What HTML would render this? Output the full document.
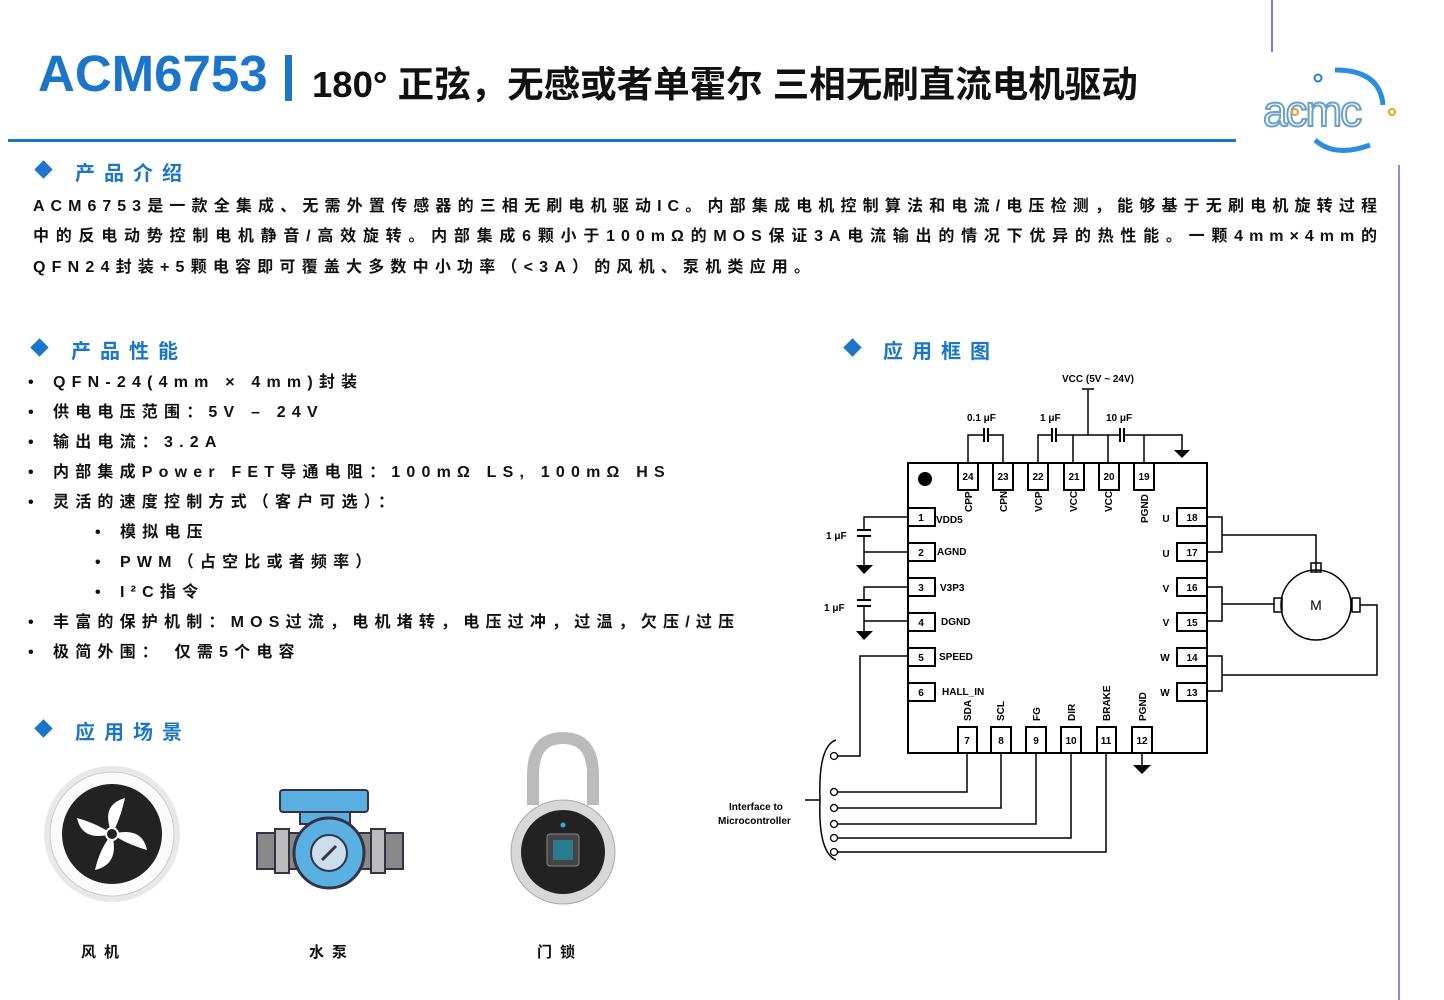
<!DOCTYPE html>
<html><head><meta charset="utf-8">
<style>
*{margin:0;padding:0;box-sizing:border-box}
body{width:1444px;height:1000px;background:#fff;position:relative;overflow:hidden;font-family:"Liberation Sans","Noto Sans CJK SC",sans-serif;color:#111}
.a{position:absolute;white-space:nowrap}
.h{color:#1b75c8;font-size:20px;font-weight:bold;letter-spacing:9px}
.dia{position:absolute;width:13px;height:13px;background:#1b75c8;transform:rotate(45deg)}
.p{position:absolute;left:33px;width:1350px;font-size:16px;font-weight:bold;letter-spacing:6px;white-space:nowrap;text-align:justify;text-align-last:justify;line-height:20px}
.li{position:absolute;font-size:16px;font-weight:bold;letter-spacing:6.2px;white-space:nowrap;line-height:20px}
.b{position:absolute;font-size:16px;font-weight:bold;line-height:20px}
.cap{position:absolute;font-size:15px;font-weight:bold;letter-spacing:8px}
</style></head><body>
<div class="a" style="left:38px;top:44px;font-size:51px;font-weight:bold;color:#1b75c8;">ACM6753</div>
<div class="a" style="left:285px;top:55px;width:7px;height:46px;background:#1b75c8"></div>
<div class="a" style="left:312px;top:55px;font-size:36.5px;font-weight:bold;">180° 正弦，无感或者单霍尔 三相无刷直流电机驱动</div>
<div class="a" style="left:8px;top:139px;width:1228px;height:3px;background:#1b75c8"></div>
<div class="a" style="left:1271px;top:0;width:2px;height:52px;background:#8a6fe0"></div>
<div class="a" style="left:1398px;top:165px;width:2px;height:835px;background:#9b86e6"></div>
<!-- logo -->
<svg class="a" style="left:1255px;top:60px" width="160" height="100">
<circle cx="63" cy="18" r="3.5" fill="none" stroke="#2a7fd0" stroke-width="2"/>
<path d="M80 10 Q125 10 128 45" stroke="#2a8ee0" stroke-width="5" fill="none"/>
<path d="M60 80 Q80 98 115 85" stroke="#2a8ee0" stroke-width="5" fill="none"/>
<text x="8" y="66" font-size="44" font-family="Liberation Sans" fill="none" stroke="#6aa0c8" stroke-width="2" letter-spacing="-2">acmc</text>
<circle cx="40" cy="52" r="3" fill="none" stroke="#f0a020" stroke-width="2"/>
<circle cx="137" cy="52" r="3" fill="none" stroke="#f0a020" stroke-width="2"/>
</svg>

<div class="dia" style="left:37px;top:163px"></div>
<div class="a h" style="left:75px;top:157px">产品介绍</div>
<div class="p" style="top:197px">ACM6753是一款全集成、无需外置传感器的三相无刷电机驱动IC。内部集成电机控制算法和电流/电压检测，能够基于无刷电机旋转过程</div>
<div class="p" style="top:227px">中的反电动势控制电机静音/高效旋转。内部集成6颗小于100mΩ的MOS保证3A电流输出的情况下优异的热性能。一颗4mm×4mm的</div>
<div class="li" style="left:33px;top:258px">QFN24封装+5颗电容即可覆盖大多数中小功率（&lt;3A）的风机、泵机类应用。</div>

<div class="dia" style="left:33px;top:341px"></div>
<div class="a h" style="left:71px;top:335px">产品性能</div>
<div class="b" style="left:28px;top:373px">•</div><div class="li" style="left:53px;top:373px">QFN-24(4mm × 4mm)封装</div>
<div class="b" style="left:28px;top:403px">•</div><div class="li" style="left:53px;top:403px">供电电压范围：5V – 24V</div>
<div class="b" style="left:28px;top:433px">•</div><div class="li" style="left:53px;top:433px">输出电流：3.2A</div>
<div class="b" style="left:28px;top:463px">•</div><div class="li" style="left:53px;top:463px">内部集成Power FET导通电阻：100mΩ LS, 100mΩ HS</div>
<div class="b" style="left:28px;top:493px">•</div><div class="li" style="left:53px;top:493px">灵活的速度控制方式（客户可选）：</div>
<div class="b" style="left:95px;top:523px">•</div><div class="li" style="left:120px;top:523px">模拟电压</div>
<div class="b" style="left:95px;top:553px">•</div><div class="li" style="left:120px;top:553px">PWM（占空比或者频率）</div>
<div class="b" style="left:95px;top:583px">•</div><div class="li" style="left:120px;top:583px">I²C指令</div>
<div class="b" style="left:28px;top:613px">•</div><div class="li" style="left:53px;top:613px">丰富的保护机制：MOS过流，电机堵转，电压过冲，过温，欠压/过压</div>
<div class="b" style="left:28px;top:643px">•</div><div class="li" style="left:53px;top:643px">极简外围： 仅需5个电容</div>

<div class="dia" style="left:846px;top:341px"></div>
<div class="a h" style="left:883px;top:335px">应用框图</div>

<div class="dia" style="left:37px;top:722px"></div>
<div class="a h" style="left:75px;top:716px">应用场景</div>

<!-- icons -->
<svg class="a" style="left:40px;top:760px" width="150" height="150">
<circle cx="72" cy="74" r="68" fill="#e8e8e8"/>
<circle cx="72" cy="74" r="62" fill="#fafafa" stroke="#ccc"/>
<circle cx="72" cy="74" r="50" fill="#222"/>
<g fill="#fff">
<path d="M72 74 Q60 45 85 38 Q80 60 72 74Z"/>
<path d="M72 74 Q102 66 107 90 Q86 84 72 74Z"/>
<path d="M72 74 Q80 104 55 110 Q60 88 72 74Z"/>
<path d="M72 74 Q42 82 37 58 Q58 64 72 74Z"/>
</g><circle cx="72" cy="74" r="6" fill="#222" stroke="#fff" stroke-width="2"/>
</svg>
<svg class="a" style="left:255px;top:785px" width="150" height="105">
<rect x="25" y="5" width="88" height="22" rx="3" fill="#5ab0e0" stroke="#334" stroke-width="2"/>
<rect x="45" y="27" width="50" height="12" fill="#5ab0e0" stroke="#334" stroke-width="2"/>
<rect x="2" y="48" width="146" height="36" fill="#888" stroke="#334" stroke-width="2"/>
<rect x="20" y="44" width="14" height="44" fill="#bbb" stroke="#334" stroke-width="2"/>
<rect x="116" y="44" width="14" height="44" fill="#bbb" stroke="#334" stroke-width="2"/>
<circle cx="74" cy="68" r="35" fill="#5ab0e0" stroke="#334" stroke-width="3"/>
<circle cx="74" cy="68" r="18" fill="#cde" stroke="#334" stroke-width="2"/>
<line x1="67" y1="75" x2="81" y2="61" stroke="#334" stroke-width="3"/>
</svg>
<svg class="a" style="left:505px;top:730px" width="115" height="180">
<path d="M28 75 V45 Q28 8 58 8 Q88 8 88 45 V75" fill="none" stroke="#bbb" stroke-width="12"/>
<circle cx="58" cy="122" r="52" fill="#d8d8d8" stroke="#aaa"/>
<circle cx="58" cy="122" r="42" fill="#222"/>
<rect x="42" y="104" width="32" height="32" rx="3" fill="#444" stroke="#888"/>
<rect x="48" y="110" width="20" height="20" fill="#2a7a90"/>
<circle cx="58" cy="95" r="2.5" fill="#3ad"/>
</svg>
<div class="cap" style="left:81px;top:941px">风机</div>
<div class="cap" style="left:309px;top:941px">水泵</div>
<div class="cap" style="left:537px;top:941px">门锁</div>

<!-- diagram -->
<svg class="a" style="left:0;top:0" width="1444" height="1000" font-family="Liberation Sans,sans-serif" font-weight="bold">
<g stroke="#000" stroke-width="1.5" fill="none">
<rect x="908" y="463" width="299" height="290" stroke-width="2"/>
<path d="M968 463V435H984M988 435H1003V463"/>
<path d="M984 428V442M988 428V442" stroke-width="2"/>
<path d="M1038 463V435H1052M1056 435H1120M1124 435H1182V450"/>
<path d="M1052 428V442M1056 428V442M1120 428V442M1124 428V442" stroke-width="2"/>
<path d="M1073 463V435M1108 463V435M1144 463V435"/>
<path d="M1088 435V389M1082 389H1094"/>
<path d="M908 517H864V530M864 536V570M908 552H864"/>
<path d="M857 530H871M857 536H871" stroke-width="2"/>
<path d="M908 587H864V600M864 606V636M908 621H864"/>
<path d="M857 600H871M857 606H871" stroke-width="2"/>
<path d="M908 656H860V756H838"/>
<path d="M967 753V792H838M1001 753V808H838M1036 753V824H838M1071 753V838H838M1106 753V852H838M1142 753V765"/>
<path d="M836 740Q818 746 820 800Q818 852 836 860M805 800H820"/>
<path d="M1207 517H1222V552H1207M1222 535H1316V572"/>
<path d="M1207 587H1222V621H1207M1222 604H1274"/>
<path d="M1207 656H1222V691H1207M1222 675H1377V605H1360"/>
<circle cx="1316" cy="605" r="35"/>
<rect x="1311" y="563" width="10" height="9"/>
<rect x="1274" y="598" width="8" height="14"/>
<rect x="1352" y="598" width="8" height="14"/>
</g>
<g fill="#000">
<path d="M1174 450H1190L1182 458Z"/>
<path d="M856 565H873L864 574Z"/>
<path d="M856 631H873L864 640Z"/>
<path d="M1133 765H1151L1142 774Z"/>
<circle cx="925" cy="479" r="7"/>
</g>
<g fill="#fff" stroke="#000" stroke-width="1.3">
<circle cx="834" cy="756" r="3.5"/><circle cx="834" cy="792" r="3.5"/><circle cx="834" cy="808" r="3.5"/>
<circle cx="834" cy="824" r="3.5"/><circle cx="834" cy="838" r="3.5"/><circle cx="834" cy="852" r="3.5"/>
</g>
<g fill="#fff" stroke="#000" stroke-width="2">
<rect x="958" y="463" width="20" height="27"/><rect x="993" y="463" width="20" height="27"/>
<rect x="1028" y="463" width="20" height="27"/><rect x="1064" y="463" width="20" height="27"/>
<rect x="1099" y="463" width="20" height="27"/><rect x="1134" y="463" width="20" height="27"/>
<rect x="908" y="508" width="27" height="18"/><rect x="908" y="543" width="27" height="18"/>
<rect x="908" y="578" width="27" height="18"/><rect x="908" y="613" width="27" height="18"/>
<rect x="908" y="648" width="27" height="18"/><rect x="908" y="683" width="27" height="18"/>
<rect x="1177" y="508" width="30" height="18"/><rect x="1177" y="543" width="30" height="18"/>
<rect x="1177" y="578" width="30" height="18"/><rect x="1177" y="613" width="30" height="18"/>
<rect x="1177" y="648" width="30" height="18"/><rect x="1177" y="683" width="30" height="18"/>
<rect x="958" y="727" width="19" height="26"/><rect x="991" y="727" width="20" height="26"/>
<rect x="1026" y="727" width="20" height="26"/><rect x="1061" y="727" width="20" height="26"/>
<rect x="1097" y="727" width="19" height="26"/><rect x="1132" y="727" width="20" height="26"/>
</g>
<g font-size="10" text-anchor="middle">
<text x="968" y="480">24</text><text x="1003" y="480">23</text><text x="1038" y="480">22</text>
<text x="1074" y="480">21</text><text x="1109" y="480">20</text><text x="1144" y="480">19</text>
<text x="921" y="521">1</text><text x="921" y="556">2</text><text x="921" y="591">3</text>
<text x="921" y="626">4</text><text x="921" y="661">5</text><text x="921" y="696">6</text>
<text x="1192" y="521">18</text><text x="1192" y="556">17</text><text x="1192" y="591">16</text>
<text x="1192" y="626">15</text><text x="1192" y="661">14</text><text x="1192" y="696">13</text>
<text x="967" y="744">7</text><text x="1001" y="744">8</text><text x="1036" y="744">9</text>
<text x="1071" y="744">10</text><text x="1106" y="744">11</text><text x="1142" y="744">12</text>
<text x="1166" y="522">U</text><text x="1166" y="557">U</text><text x="1166" y="592">V</text>
<text x="1166" y="626">V</text><text x="1165" y="661">W</text><text x="1165" y="696">W</text>
</g>
<g font-size="10">
<text x="936" y="523">VDD5</text><text x="937" y="555">AGND</text><text x="940" y="591">V3P3</text>
<text x="941" y="625">DGND</text><text x="939" y="660">SPEED</text><text x="942" y="695">HALL_IN</text>
<text x="1062" y="382">VCC (5V ~ 24V)</text>
<text x="967" y="421">0.1 μF</text><text x="1040" y="421">1 μF</text><text x="1106" y="421">10 μF</text>
<text x="826" y="539">1 μF</text><text x="824" y="611">1 μF</text>
<text x="729" y="810">Interface to</text><text x="718" y="824">Microcontroller</text>
</g>
<g font-size="10">
<text transform="translate(972,512) rotate(-90)">CPP</text>
<text transform="translate(1007,512) rotate(-90)">CPN</text>
<text transform="translate(1042,512) rotate(-90)">VCP</text>
<text transform="translate(1077,512) rotate(-90)">VCC</text>
<text transform="translate(1112,512) rotate(-90)">VCC</text>
<text transform="translate(1148,523) rotate(-90)">PGND</text>
<text transform="translate(971,721) rotate(-90)">SDA</text>
<text transform="translate(1004,721) rotate(-90)">SCL</text>
<text transform="translate(1040,721) rotate(-90)">FG</text>
<text transform="translate(1075,721) rotate(-90)">DIR</text>
<text transform="translate(1110,721) rotate(-90)">BRAKE</text>
<text transform="translate(1146,721) rotate(-90)">PGND</text>
</g>
<text x="1316" y="610" font-size="14" font-weight="normal" text-anchor="middle">M</text>
</svg>
</body></html>
